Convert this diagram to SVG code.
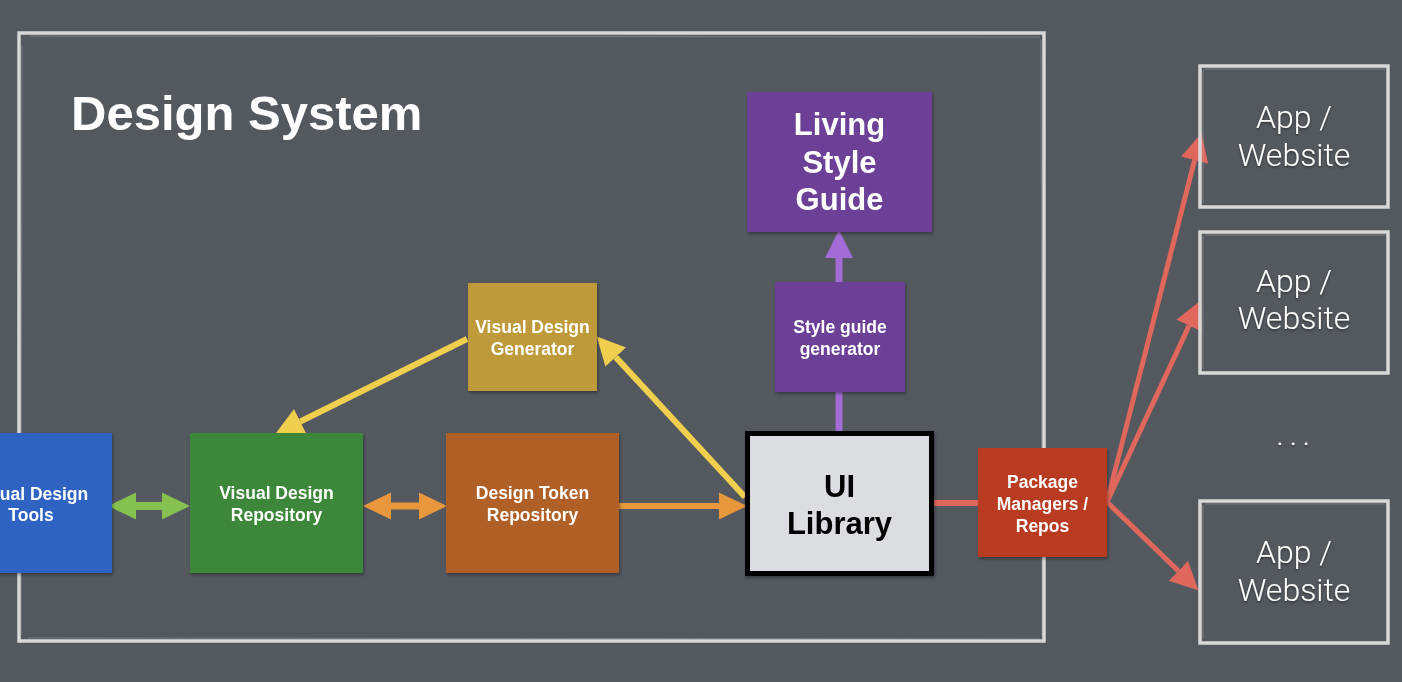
<svg xmlns="http://www.w3.org/2000/svg" width="1402" height="682" viewBox="0 0 1402 682">
<defs>
<style>
.lbl{font-family:"Liberation Sans",Arial,sans-serif;font-weight:bold;font-size:17.5px;fill:#ffffff;text-anchor:middle}
.big{font-family:"Liberation Sans",Arial,sans-serif;font-weight:bold;font-size:31px;text-anchor:middle}
.app{font-family:Roboto,"Liberation Sans",Arial,sans-serif;font-weight:300;font-size:32px;fill:#ffffff;text-anchor:middle;filter:url(#ts)}
.frame{fill:none;stroke:#d8d8d8;stroke-width:3.5}
.frame2{fill:none;stroke:#c8c8c8;stroke-width:1;opacity:0.35}
.node{filter:url(#sh)}
</style>
<filter id="sh" x="-10%" y="-10%" width="130%" height="130%">
<feDropShadow dx="1" dy="2" stdDeviation="1.5" flood-color="#000" flood-opacity="0.35"/>
</filter>
<filter id="ts" x="-10%" y="-20%" width="130%" height="150%">
<feDropShadow dx="0" dy="1.5" stdDeviation="1" flood-color="#000" flood-opacity="0.45"/>
</filter>
<marker id="hG" markerUnits="userSpaceOnUse" markerWidth="28" markerHeight="28" refX="0" refY="13" orient="auto-start-reverse" viewBox="0 0 27 26"><path d="M0,0 L27,13 L0,26 z" fill="#85c051"/></marker>
<marker id="hO" markerUnits="userSpaceOnUse" markerWidth="28" markerHeight="28" refX="0" refY="13" orient="auto-start-reverse" viewBox="0 0 27 26"><path d="M0,0 L27,13 L0,26 z" fill="#e8973c"/></marker>
<marker id="hY" markerUnits="userSpaceOnUse" markerWidth="28" markerHeight="28" refX="0" refY="13" orient="auto" viewBox="0 0 26 26"><path d="M0,0 L26,13 L0,26 z" fill="#f0cf4e"/></marker>
<marker id="hP" markerUnits="userSpaceOnUse" markerWidth="28" markerHeight="28" refX="0" refY="13" orient="auto" viewBox="0 0 26 26"><path d="M0,0 L26,13 L0,26 z" fill="#a26bd6"/></marker>
<marker id="hR" markerUnits="userSpaceOnUse" markerWidth="28" markerHeight="28" refX="0" refY="13" orient="auto" viewBox="0 0 26 26"><path d="M0,0 L26,13 L0,26 z" fill="#e0675b"/></marker>
</defs>
<rect x="0" y="0" width="1402" height="682" fill="#54585f"/>

<g id="design-system-frame">
<rect class="frame" x="19" y="33" width="1025" height="608"/>
<path class="frame2" d="M30,36 L1040,37 M22,45 L21,635 M28,638 L1040,639 M1041,40 L1042,636"/>
<text x="71" y="130" font-family="Liberation Sans, Arial, sans-serif" font-weight="bold" font-size="49" fill="#ffffff">Design System</text>
</g>

<g id="connectors" fill="none">
<line x1="136" y1="506" x2="162" y2="506" stroke="#85c051" stroke-width="8" marker-start="url(#hG)" marker-end="url(#hG)"/>
<line x1="391" y1="506" x2="419" y2="506" stroke="#e8973c" stroke-width="7" marker-start="url(#hO)" marker-end="url(#hO)"/>
<line x1="619" y1="506" x2="719" y2="506" stroke="#e8973c" stroke-width="6" marker-end="url(#hO)"/>
<line x1="745" y1="497" x2="615.7" y2="357.1" stroke="#f0cf4e" stroke-width="6" marker-end="url(#hY)"/>
<line x1="467" y1="339" x2="300.3" y2="421.5" stroke="#f0cf4e" stroke-width="6" marker-end="url(#hY)"/>
<line x1="839" y1="431" x2="839" y2="392" stroke="#a26bd6" stroke-width="7"/>
<line x1="839" y1="282" x2="839" y2="258" stroke="#a26bd6" stroke-width="7" marker-end="url(#hP)"/>
<line x1="933" y1="503" x2="978" y2="503" stroke="#e0675b" stroke-width="6"/>
<line x1="1107" y1="502" x2="1194.6" y2="160.2" stroke="#e0675b" stroke-width="5" marker-end="url(#hR)"/>
<line x1="1107" y1="502" x2="1189.1" y2="325.6" stroke="#e0675b" stroke-width="5" marker-end="url(#hR)"/>
<line x1="1107" y1="502" x2="1178.3" y2="570.9" stroke="#e0675b" stroke-width="5" marker-end="url(#hR)"/>
</g>

<g id="visual-design-tools" class="node">
<rect x="-50" y="433" width="162" height="140" fill="#2d63c1"/>
<text class="lbl" x="31" y="500">Visual Design</text>
<text class="lbl" x="31" y="521">Tools</text>
</g>

<g id="visual-design-repository" class="node">
<rect x="190" y="433" width="173" height="140" fill="#3d873a"/>
<text class="lbl" x="276.5" y="499">Visual Design</text>
<text class="lbl" x="276.5" y="521">Repository</text>
</g>

<g id="design-token-repository" class="node">
<rect x="446" y="433" width="173" height="140" fill="#b06026"/>
<text class="lbl" x="532.5" y="499">Design Token</text>
<text class="lbl" x="532.5" y="521">Repository</text>
</g>

<g id="visual-design-generator" class="node">
<rect x="468" y="283" width="129" height="108" fill="#bf9a3a"/>
<text class="lbl" x="532.5" y="333">Visual Design</text>
<text class="lbl" x="532.5" y="355">Generator</text>
</g>

<g id="style-guide-generator" class="node">
<rect x="775" y="282" width="130" height="110" fill="#6c3f96"/>
<text class="lbl" x="840" y="333">Style guide</text>
<text class="lbl" x="840" y="355">generator</text>
</g>

<g id="living-style-guide" class="node">
<rect x="747" y="92" width="185" height="140" fill="#6c3f96"/>
<text class="big" x="839.5" y="135" fill="#ffffff">Living</text>
<text class="big" x="839.5" y="173" fill="#ffffff">Style</text>
<text class="big" x="839.5" y="210" fill="#ffffff">Guide</text>
</g>

<g id="ui-library" class="node">
<rect x="747.5" y="433.5" width="184" height="140" fill="#dcdde0" stroke="#000000" stroke-width="5"/>
<text class="big" x="839.5" y="497" fill="#000000">UI</text>
<text class="big" x="839.5" y="534" fill="#000000">Library</text>
</g>

<g id="package-managers" class="node">
<rect x="978" y="448" width="129" height="109" fill="#b83a22"/>
<text class="lbl" x="1042.5" y="488">Package</text>
<text class="lbl" x="1042.5" y="510">Managers /</text>
<text class="lbl" x="1042.5" y="532">Repos</text>
</g>

<g id="app-website-1">
<rect class="frame" x="1200" y="66" width="188" height="141"/>
<path class="frame2" d="M1205,69 L1385,69 M1203,70 L1203,203"/>
<text class="app" x="1294" y="128">App /</text>
<text class="app" x="1294" y="166">Website</text>
</g>

<g id="app-website-2">
<rect class="frame" x="1200" y="232" width="188" height="141"/>
<path class="frame2" d="M1205,235 L1385,235 M1203,236 L1203,369"/>
<text class="app" x="1294" y="292">App /</text>
<text class="app" x="1294" y="329">Website</text>
</g>

<g id="ellipsis">
<text class="app" x="1296" y="445" letter-spacing="5.5">...</text>
</g>

<g id="app-website-3">
<rect class="frame" x="1200" y="501" width="188" height="142"/>
<path class="frame2" d="M1205,504 L1385,504 M1203,505 L1203,639"/>
<text class="app" x="1294" y="563">App /</text>
<text class="app" x="1294" y="601">Website</text>
</g>
</svg>
